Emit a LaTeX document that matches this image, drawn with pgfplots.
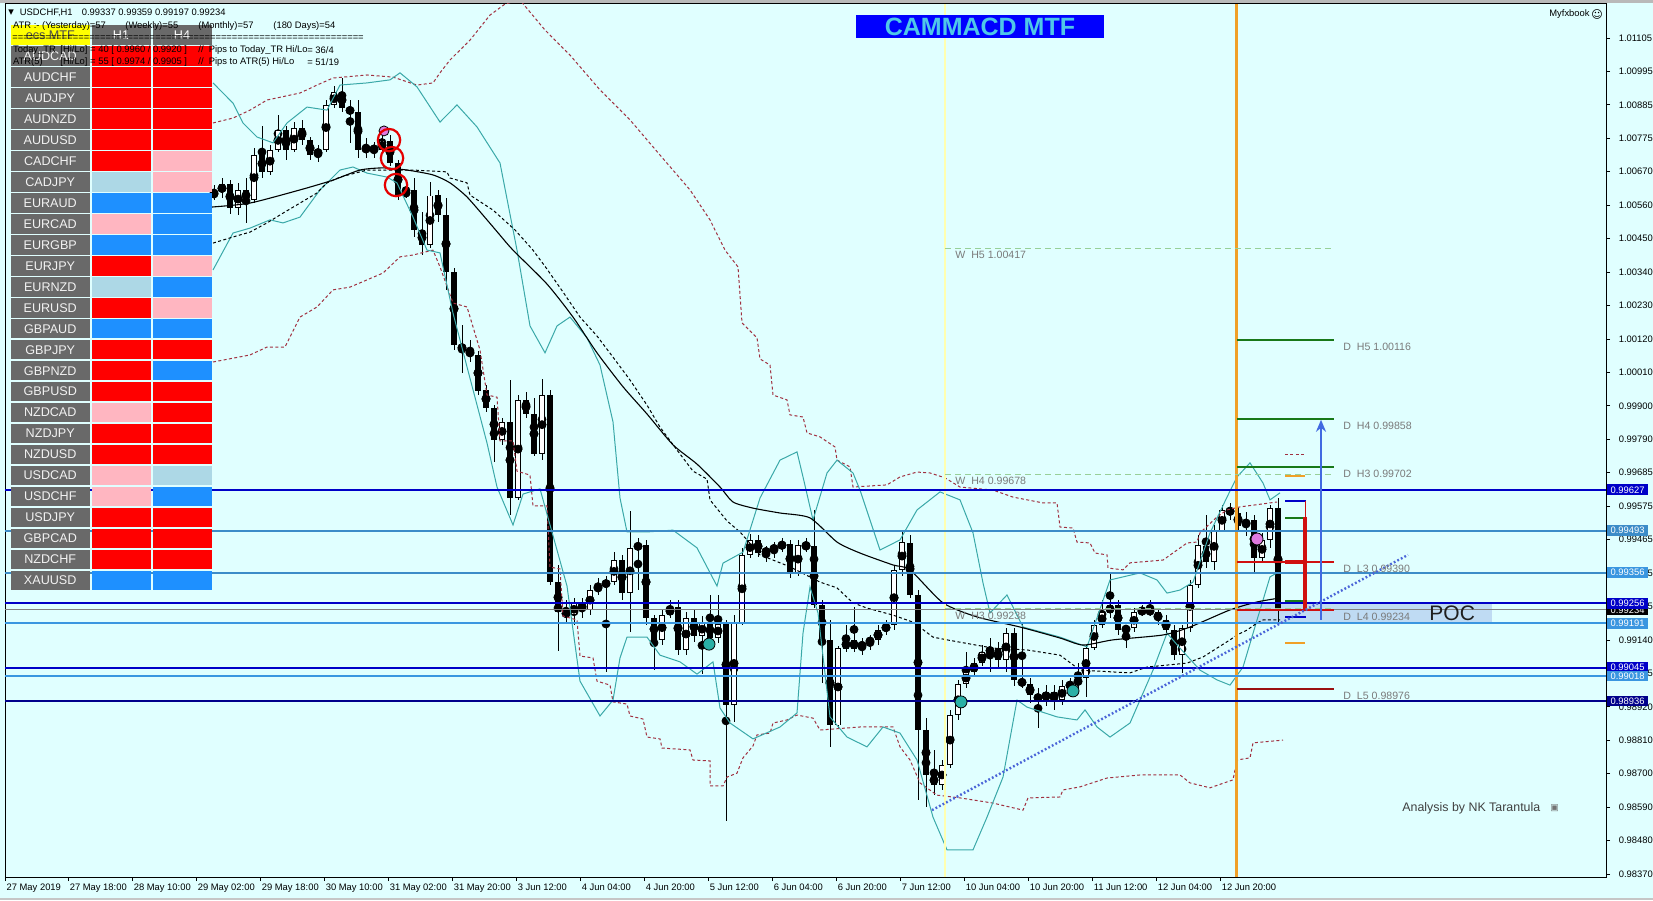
\documentclass[border=0pt]{standalone}
\usepackage{fontspec}
\setmainfont{Liberation Sans}
\newfontfamily\dejavu{DejaVu Sans}
\usepackage{pgfplots}
\usepackage{pgfplotstable}
\pgfplotsset{compat=1.18}
\usetikzlibrary{arrows.meta}

\definecolor{bg}{HTML}{E0FFFF}
\definecolor{cRed}{HTML}{FF0000}
\definecolor{cPink}{HTML}{FFB6C1}
\definecolor{cBlue}{HTML}{1E90FF}
\definecolor{cLblue}{HTML}{ADD8E6}
\definecolor{cGray}{HTML}{696969}
\definecolor{cYellow}{HTML}{FFFF00}
\definecolor{bbteal}{HTML}{3AA8A8}
\definecolor{envred}{HTML}{A03040}
\definecolor{lvDark}{HTML}{0000C8}
\definecolor{lvSteel}{HTML}{3C8CC8}
\definecolor{lvLight}{HTML}{3A96E0}
\definecolor{lvNavy}{HTML}{00008B}
\definecolor{dGreen}{HTML}{187818}
\definecolor{dRed}{HTML}{D01010}
\definecolor{dDRed}{HTML}{9A1010}
\definecolor{wGreen}{HTML}{98D098}
\definecolor{orangeL}{HTML}{F0A028}
\definecolor{yellowL}{HTML}{FFFFB0}
\definecolor{arrowBlue}{HTML}{4169E1}
\definecolor{trendBlue}{HTML}{4A64D8}
\definecolor{pocBand}{HTML}{B4CFF0}
\definecolor{tealDot}{HTML}{2AB0A6}
\definecolor{pinkDot}{HTML}{E07AE0}
\definecolor{lblGray}{HTML}{7A7A7A}
\definecolor{titleBlue}{HTML}{0000FF}
\definecolor{titleText}{HTML}{4FC8E8}

\newcommand{\sm}{\fontsize{4.7}{5.5}\selectfont}
\newcommand{\lbl}{\fontsize{5.3}{6}\selectfont}
\newcommand{\tb}{\fontsize{6.3}{7}\selectfont}

\pgfdeclareplotmark{namecell}{\pgfpathrectangle{\pgfpoint{-19.875pt}{-4.875pt}}{\pgfpoint{39.75pt}{9.75pt}}\pgfusepathqfill}
\pgfdeclareplotmark{valcell}{\pgfpathrectangle{\pgfpoint{-14.75pt}{-4.875pt}}{\pgfpoint{29.5pt}{9.75pt}}\pgfusepathqfill}

\pgfplotstableread{
x o h l c
214 1.00591 1.00624 1.00575 1.00601
222 1.00601 1.00647 1.00582 1.00627
230 1.00627 1.00640 1.00529 1.00549
238 1.00549 1.00631 1.00526 1.00608
246 1.00608 1.00647 1.00500 1.00575
254 1.00575 1.00745 1.00565 1.00722
262 1.00722 1.00820 1.00647 1.00667
270 1.00667 1.00755 1.00657 1.00739
278 1.00739 1.00853 1.00732 1.00804
286 1.00804 1.00817 1.00706 1.00739
294 1.00739 1.00830 1.00732 1.00811
302 1.00811 1.00837 1.00755 1.00771
310 1.00771 1.00781 1.00706 1.00722
318 1.00722 1.00755 1.00699 1.00739
326 1.00739 1.00902 1.00732 1.00886
334 1.00886 1.00951 1.00876 1.00928
342 1.00928 1.00974 1.00863 1.00876
350 1.00876 1.00902 1.00762 1.00863
358 1.00863 1.00902 1.00712 1.00739
366 1.00739 1.00778 1.00712 1.00745
374 1.00745 1.00765 1.00712 1.00739
382 1.00739 1.00797 1.00729 1.00771
390 1.00771 1.00788 1.00686 1.00696
398 1.00696 1.00706 1.00575 1.00591
406 1.00591 1.00631 1.00582 1.00608
414 1.00608 1.00647 1.00454 1.00477
422 1.00477 1.00536 1.00395 1.00428
430 1.00428 1.00634 1.00418 1.00591
438 1.00591 1.00608 1.00503 1.00526
446 1.00526 1.00582 1.00281 1.00339
454 1.00339 1.00353 1.00084 1.00101
462 1.00101 1.00166 1.00009 1.00084
470 1.00084 1.00117 1.00045 1.00068
478 1.00068 1.00084 0.99937 0.99953
486 0.99953 0.99970 0.99881 0.99895
494 0.99895 0.99904 0.99718 0.99790
502 0.99790 0.99862 0.99773 0.99849
510 0.99849 0.99986 0.99545 0.99600
518 0.99600 0.99937 0.99594 0.99921
526 0.99921 0.99947 0.99862 0.99875
534 0.99875 0.99927 0.99738 0.99744
542 0.99744 0.99992 0.99724 0.99937
550 0.99937 0.99953 0.99315 0.99325
558 0.99325 0.99381 0.99100 0.99227
566 0.99227 0.99266 0.99194 0.99217
574 0.99217 0.99273 0.99185 0.99257
582 0.99257 0.99273 0.99208 0.99234
590 0.99234 0.99315 0.99217 0.99299
598 0.99299 0.99338 0.99283 0.99315
606 0.99315 0.99348 0.99031 0.99325
614 0.99325 0.99423 0.99315 0.99397
622 0.99397 0.99414 0.99266 0.99289
630 0.99289 0.99558 0.99162 0.99437
638 0.99437 0.99469 0.99299 0.99446
646 0.99446 0.99463 0.99185 0.99208
654 0.99208 0.99217 0.99037 0.99136
662 0.99136 0.99234 0.99119 0.99217
670 0.99217 0.99266 0.99208 0.99244
678 0.99244 0.99266 0.99086 0.99103
686 0.99103 0.99227 0.99086 0.99208
694 0.99208 0.99234 0.99129 0.99149
702 0.99149 0.99214 0.99024 0.99194
710 0.99194 0.99283 0.99136 0.99145
718 0.99145 0.99283 0.99126 0.99188
726 0.99188 0.99201 0.98543 0.98923
734 0.98923 0.99217 0.98867 0.99194
742 0.99194 0.99437 0.99185 0.99414
750 0.99414 0.99482 0.99404 0.99463
758 0.99463 0.99479 0.99410 0.99420
766 0.99420 0.99446 0.99391 0.99430
774 0.99430 0.99456 0.99404 0.99443
782 0.99443 0.99469 0.99423 0.99450
790 0.99450 0.99463 0.99338 0.99355
798 0.99355 0.99463 0.99345 0.99446
806 0.99446 0.99469 0.99423 0.99443
814 0.99443 0.99561 0.99240 0.99250
822 0.99250 0.99266 0.98995 0.99136
830 0.99136 0.99201 0.98786 0.98857
838 0.98857 0.99119 0.98848 0.99109
846 0.99109 0.99185 0.99096 0.99136
854 0.99136 0.99244 0.99096 0.99109
862 0.99109 0.99142 0.99086 0.99129
870 0.99129 0.99152 0.99103 0.99136
878 0.99136 0.99185 0.99119 0.99168
886 0.99168 0.99201 0.99152 0.99185
894 0.99185 0.99381 0.99168 0.99365
902 0.99365 0.99489 0.99348 0.99456
910 0.99456 0.99479 0.99273 0.99283
918 0.99283 0.99299 0.98612 0.98841
926 0.98841 0.98880 0.98589 0.98694
934 0.98694 0.98776 0.98628 0.98661
942 0.98661 0.98743 0.98645 0.98727
950 0.98727 0.98907 0.98717 0.98890
958 0.98890 0.99005 0.98874 0.98992
966 0.98992 0.99096 0.98979 0.99031
974 0.99031 0.99077 0.99018 0.99060
982 0.99060 0.99119 0.99051 0.99096
990 0.99096 0.99142 0.99031 0.99109
998 0.99109 0.99129 0.99044 0.99070
1006 0.99070 0.99175 0.99031 0.99158
1014 0.99158 0.99175 0.98985 0.99005
1022 0.99005 0.99191 0.98979 0.98992
1030 0.98992 0.99011 0.98929 0.98956
1038 0.98956 0.98979 0.98848 0.98939
1046 0.98939 0.98988 0.98920 0.98965
1054 0.98965 0.98988 0.98907 0.98939
1062 0.98939 0.99005 0.98923 0.98985
1070 0.98985 0.99011 0.98965 0.98992
1078 0.98992 0.99060 0.98979 0.99011
1086 0.99011 0.99119 0.98949 0.99109
1094 0.99109 0.99201 0.99103 0.99185
1102 0.99185 0.99266 0.99175 0.99227
1110 0.99227 0.99355 0.99208 0.99250
1118 0.99250 0.99266 0.99152 0.99168
1126 0.99168 0.99185 0.99109 0.99175
1134 0.99175 0.99240 0.99162 0.99227
1142 0.99227 0.99250 0.99214 0.99234
1150 0.99234 0.99266 0.99214 0.99227
1158 0.99227 0.99240 0.99185 0.99201
1166 0.99201 0.99217 0.99158 0.99168
1174 0.99168 0.99185 0.99070 0.99086
1182 0.99086 0.99185 0.99028 0.99175
1190 0.99175 0.99332 0.99162 0.99315
1198 0.99315 0.99479 0.99306 0.99446
1206 0.99446 0.99545 0.99371 0.99391
1214 0.99391 0.99512 0.99365 0.99495
1222 0.99495 0.99577 0.99489 0.99561
1230 0.99561 0.99584 0.99528 0.99554
1238 0.99554 0.99567 0.99489 0.99509
1246 0.99509 0.99554 0.99476 0.99528
1254 0.99528 0.99545 0.99355 0.99404
1262 0.99404 0.99486 0.99391 0.99463
1270 0.99463 0.99577 0.99437 0.99567
1278 0.99567 0.99600 0.99194 0.99234
}\candles

\pgfplotstableread{
i name h1 h4
1 AUDCAD r r
2 AUDCHF r r
3 AUDJPY r r
4 AUDNZD r r
5 AUDUSD r r
6 CADCHF r p
7 CADJPY l p
8 EURAUD b b
9 EURCAD p b
10 EURGBP b b
11 EURJPY r p
12 EURNZD l b
13 EURUSD r p
14 GBPAUD b b
15 GBPJPY r r
16 GBPNZD r b
17 GBPUSD r r
18 NZDCAD p r
19 NZDJPY r r
20 NZDUSD r r
21 USDCAD p l
22 USDCHF p b
23 USDJPY r r
24 GBPCAD r r
25 NZDCHF r r
26 XAUUSD b b
}\celltab

\begin{document}
\begin{tikzpicture}
\fill[bg] (-2.5pt,-11.5pt) rectangle (824pt,438.5pt);
\fill[gray!55] (-2.5pt,437pt) rectangle (824pt,438.5pt);
\fill[gray!45] (-2.5pt,-11.5pt) rectangle (824pt,-10.3pt);

\begin{axis}[
  at={(0,0)}, anchor=south west,
  scale only axis, width=800.5pt, height=436.5pt,
  xmin=5, xmax=1606, ymin=0.983602, ymax=1.012162,
  axis line style={black, line width=0.5pt},
  clip mode=individual,
  xtick pos=bottom, ytick pos=right, yticklabel pos=right,
  tick align=outside, major tick length=2pt,
  tick style={black, line width=0.4pt},
  xtick={5,68.2,132.2,196.2,260.2,324.2,388.2,452.2,516.2,580.2,644.2,708.2,772.2,836.2,900.2,964.2,1028.2,1092.2,1156.2,1220.2},
  xticklabels={27 May 2019,27 May 18:00,28 May 10:00,29 May 02:00,29 May 18:00,30 May 10:00,31 May 02:00,31 May 20:00,3 Jun 12:00,4 Jun 04:00,4 Jun 20:00,5 Jun 12:00,6 Jun 04:00,6 Jun 20:00,7 Jun 12:00,10 Jun 04:00,10 Jun 20:00,11 Jun 12:00,12 Jun 04:00,12 Jun 20:00},
  ytick={1.01105,1.009956,1.008862,1.007768,1.006674,1.00558,1.004486,1.003392,1.002298,1.001204,1.00011,0.999016,0.997922,0.996828,0.995734,0.99464,0.993546,0.992452,0.991358,0.990264,0.98917,0.988076,0.986982,0.985888,0.984794,0.9837},
  yticklabels={1.01105,1.00995,1.00885,1.00775,1.00670,1.00560,1.00450,1.00340,1.00230,1.00120,1.00010,0.99900,0.99790,0.99685,0.99575,0.99465,0.99355,0.99245,0.99140,0.99025,0.98920,0.98810,0.98700,0.98590,0.98480,0.98370},
  ticklabel style={font=\sm, inner sep=0pt, text=black},
  xticklabel style={anchor=north west, xshift=0.6pt, yshift=-1.5pt},
  yticklabel style={anchor=west, xshift=4.2pt},
  /pgf/number format/assume math mode=true,
]
% POC band
\addplot[fill=pocBand, draw=none, fill opacity=0.75] coordinates {(1237,0.99256) (1492,0.99256) (1492,0.99191) (1237,0.99191)};

% candles: wicks, bodies, bullish interiors
\addplot[only marks, mark=none, error bars/.cd, y dir=both, y explicit, error mark=none,
  error bar style={black, line width=0.5pt}]
  table[x=x, y expr={(\thisrow{h}+\thisrow{l})/2}, y error expr={(\thisrow{h}-\thisrow{l})/2}] {\candles};
\addplot[only marks, mark=none, error bars/.cd, y dir=both, y explicit, error mark=none,
  error bar style={black, line width=2.6pt}]
  table[x=x, y expr={(\thisrow{o}+\thisrow{c})/2}, y error expr={max(abs(\thisrow{c}-\thisrow{o})/2,0.000012)}] {\candles};
\addplot[only marks, mark=none, error bars/.cd, y dir=both, y explicit, error mark=none,
  error bar style={white, line width=1.6pt}]
  table[x=x, y expr={(\thisrow{o}+\thisrow{c})/2}, y error expr={max((\thisrow{c}-\thisrow{o})/2-0.00003,0)}] {\candles};

% red dotted envelopes
\addplot[envred, line width=0.5pt, dash pattern=on 1.5pt off 1.2pt] coordinates {
(213,1.00827) (233,1.00843) (250,1.00869) (267,1.00902) (300,1.00925) (317,1.00951) (333,1.00974) (367,1.00984) (393,1.00977) (417,1.00951) (433,1.00958) (440,1.00991) (450,1.01033) (470,1.01098) (490,1.01180) (505,1.01216) (520,1.01229) (545,1.01131) (570,1.01049) (600,1.00935) (630,1.00837) (660,1.00722) (690,1.00608) (710,1.00510) (725,1.00411) (738,1.00356) (742,1.00173) (757,1.00124) (760,1.00055) (770,1.00035) (773,0.99937) (787,0.99921) (790,0.99872) (803,0.99865) (807,0.99813) (820,0.99800) (835,0.99767) (837,0.99724) (850,0.99702) (853,0.99636) (887,0.99643) (900,0.99669) (917,0.99685) (930,0.99682) (945,0.99666) (960,0.99636) (993,0.99626) (1013,0.99603) (1043,0.99584) (1057,0.99584) (1060,0.99505) (1073,0.99502) (1077,0.99456) (1090,0.99453) (1095,0.99420) (1107,0.99414) (1108,0.99371) (1123,0.99365) (1130,0.99388) (1163,0.99397) (1187,0.99453) (1197,0.99456) (1200,0.99486) (1217,0.99538) (1227,0.99561) (1240,0.99571) (1277,0.99587)};
\addplot[envred, line width=0.5pt, dash pattern=on 1.5pt off 1.2pt] coordinates {
(213,1.00045) (250,1.00068) (267,1.00094) (285,1.00094) (300,1.00192) (317,1.00225) (333,1.00281) (350,1.00290) (383,1.00336) (400,1.00389) (413,1.00395) (433,1.00411) (440,1.00356) (453,1.00238) (467,1.00225) (480,1.00084) (487,0.99937) (497,0.99930) (500,0.99787) (513,0.99787) (517,0.99688) (530,0.99675) (533,0.99574) (547,0.99574) (550,0.99374) (560,0.99368) (563,0.99214) (577,0.99201) (580,0.99083) (593,0.99077) (597,0.99001) (610,0.98988) (613,0.98933) (627,0.98926) (630,0.98887) (643,0.98877) (647,0.98818) (660,0.98812) (662,0.98782) (690,0.98776) (693,0.98743) (710,0.98740) (710,0.98658) (723,0.98658) (727,0.98687) (737,0.98700) (743,0.98750) (753,0.98789) (757,0.98825) (770,0.98831) (773,0.98864) (787,0.98874) (797,0.98890) (813,0.98880) (820,0.98841) (860,0.98851) (893,0.98851) (900,0.98786) (910,0.98743) (920,0.98668) (937,0.98628) (960,0.98619) (993,0.98602) (1023,0.98579) (1028,0.98619) (1060,0.98622) (1063,0.98645) (1080,0.98655) (1107,0.98684) (1140,0.98694) (1180,0.98694) (1190,0.98668) (1210,0.98652) (1233,0.98678) (1237,0.98743) (1250,0.98750) (1253,0.98799) (1283,0.98808)};
\addplot[envred, line width=0.5pt, dash pattern=on 1.5pt off 1.2pt] coordinates {(1285,0.99744) (1306,0.99744)};

% Bollinger bands
\addplot[bbteal, line width=0.5pt] coordinates {
(213,1.00958) (233,1.00892) (243,1.00827) (257,1.00781) (273,1.00762) (287,1.00827) (307,1.00879) (327,1.00869) (340,1.00951) (367,1.00958) (390,1.00968) (400,1.00991) (417,1.00945) (440,1.00830) (457,1.00886) (477,1.00814) (500,1.00696) (517,1.00411) (530,1.00163) (545,1.00075) (557,1.00163) (570,1.00192) (587,1.00124) (600,1.00035) (613,0.99849) (620,0.99600) (627,0.99489) (647,0.99489) (673,0.99495) (697,0.99437) (717,0.99312) (723,0.99387) (743,0.99423) (760,0.99600) (780,0.99724) (797,0.99751) (803,0.99669) (813,0.99528) (827,0.99682) (837,0.99724) (853,0.99682) (860,0.99626) (880,0.99430) (900,0.99463) (917,0.99561) (940,0.99620) (960,0.99594) (973,0.99486) (983,0.99322) (990,0.99224) (1007,0.99283) (1023,0.99178) (1060,0.99145) (1087,0.99113) (1110,0.99332) (1140,0.99355) (1157,0.99332) (1167,0.99289) (1180,0.99299) (1193,0.99325) (1210,0.99486) (1227,0.99603) (1237,0.99669) (1250,0.99715) (1263,0.99649) (1270,0.99594) (1280,0.99617)};
\addplot[bbteal, line width=0.5pt] coordinates {
(213,1.00346) (233,1.00467) (250,1.00483) (270,1.00510) (283,1.00500) (300,1.00519) (320,1.00608) (340,1.00673) (353,1.00683) (367,1.00663) (387,1.00650) (397,1.00631) (413,1.00519) (427,1.00411) (440,1.00402) (453,1.00205) (467,1.00029) (487,0.99780) (497,0.99636) (513,0.99512) (523,0.99613) (540,0.99630) (567,0.99312) (580,0.99001) (600,0.98887) (613,0.98939) (620,0.99077) (627,0.99145) (647,0.99145) (660,0.99086) (680,0.99064) (697,0.99024) (713,0.99064) (720,0.98913) (730,0.98864) (753,0.98812) (780,0.98851) (797,0.98897) (803,0.99158) (810,0.99309) (818,0.99224) (830,0.98884) (847,0.98818) (867,0.98786) (883,0.98851) (900,0.98831) (917,0.98743) (933,0.98556) (947,0.98449) (973,0.98449) (987,0.98556) (1003,0.98687) (1017,0.98939) (1027,0.98916) (1057,0.98884) (1077,0.98874) (1085,0.98907) (1097,0.98851) (1110,0.98818) (1130,0.98864) (1153,0.99037) (1167,0.99158) (1180,0.99109) (1200,0.99037) (1217,0.99005) (1230,0.98988) (1243,0.99047) (1257,0.99201) (1270,0.99342) (1277,0.99355)};

% black dotted step line
\addplot[black, line width=0.5pt, dash pattern=on 1.5pt off 1.2pt] coordinates {
(213,1.00434) (233,1.00454) (250,1.00470) (267,1.00500) (283,1.00532) (300,1.00565) (317,1.00598) (327,1.00631) (340,1.00650) (367,1.00673) (413,1.00673) (447,1.00667) (450,1.00647) (467,1.00631) (470,1.00591) (493,1.00542) (515,1.00477) (533,1.00411) (547,1.00349) (563,1.00274) (580,1.00192) (597,1.00130) (613,1.00061) (630,0.99986) (647,0.99904) (660,0.99832) (677,0.99757) (693,0.99688) (707,0.99662) (710,0.99594) (727,0.99525) (740,0.99489) (760,0.99414) (790,0.99375) (820,0.99325) (837,0.99306) (853,0.99257) (867,0.99240) (893,0.99217) (913,0.99194) (933,0.99145) (947,0.99136) (993,0.99109) (1027,0.99103) (1060,0.99086) (1080,0.99037) (1130,0.99028) (1147,0.99047) (1187,0.99060) (1203,0.99080) (1217,0.99109) (1230,0.99136) (1237,0.99152) (1247,0.99168) (1257,0.99191) (1263,0.99201) (1280,0.99201)};

% moving average
\addplot[black, line width=0.55pt, smooth, tension=0.4] coordinates {
(212,1.00552) (250,1.00565) (300,1.00608) (333,1.00640) (360,1.00673) (383,1.00680) (407,1.00673) (433,1.00657) (450,1.00631) (467,1.00585) (487,1.00510) (500,1.00460) (513,1.00411) (547,1.00300) (573,1.00192) (597,1.00075) (623,0.99964) (647,0.99875) (673,0.99774) (697,0.99711) (720,0.99636) (733,0.99587) (753,0.99567) (780,0.99551) (810,0.99535) (837,0.99456) (860,0.99420) (893,0.99381) (910,0.99365) (943,0.99257) (977,0.99211) (1020,0.99178) (1060,0.99142) (1083,0.99119) (1113,0.99136) (1163,0.99152) (1190,0.99178) (1230,0.99234) (1257,0.99260) (1280,0.99273)};

% vertical separators
\addplot[yellowL, line width=1pt] coordinates {(945,0.983602) (945,1.012162)};
\addplot[orangeL, line width=1.3pt] coordinates {(1236.5,0.983602) (1236.5,1.012162)};

% horizontal levels
\addplot[lvDark, line width=1pt] coordinates {(5,0.99627) (1606,0.99627)};
\addplot[lvSteel, line width=1pt] coordinates {(5,0.99493) (1606,0.99493)};
\addplot[lvSteel, line width=1pt] coordinates {(5,0.99356) (1606,0.99356)};
\addplot[lvDark, line width=1pt] coordinates {(5,0.99256) (1606,0.99256)};
\addplot[gray, line width=0.45pt] coordinates {(5,0.99234) (1606,0.99234)};
\addplot[lvLight, line width=1pt] coordinates {(5,0.99191) (1606,0.99191)};
\addplot[lvDark, line width=1pt] coordinates {(5,0.99045) (1606,0.99045)};
\addplot[lvLight, line width=1pt] coordinates {(5,0.99018) (1606,0.99018)};
\addplot[lvNavy, line width=1pt] coordinates {(5,0.98936) (1606,0.98936)};

% weekly levels
\addplot[wGreen, line width=0.6pt, dash pattern=on 3pt off 2pt] coordinates {(945,1.00417) (1334,1.00417)};
\addplot[wGreen, line width=0.6pt, dash pattern=on 3pt off 2pt] coordinates {(945,0.99678) (1334,0.99678)};
\addplot[wGreen, line width=0.6pt, dash pattern=on 3pt off 2pt] coordinates {(945,0.99238) (1334,0.99238)};

% daily levels
\addplot[dGreen, line width=1pt] coordinates {(1237,1.00116) (1334,1.00116)};
\addplot[dGreen, line width=1pt] coordinates {(1237,0.99858) (1334,0.99858)};
\addplot[dGreen, line width=1pt] coordinates {(1237,0.99702) (1334,0.99702)};
\addplot[dRed, line width=1pt] coordinates {(1237,0.99390) (1334,0.99390)};
\addplot[dRed, line width=1pt] coordinates {(1237,0.99234) (1334,0.99234)};
\addplot[dDRed, line width=1pt] coordinates {(1237,0.98976) (1334,0.98976)};

% short markers
\addplot[orangeL, line width=1pt] coordinates {(1285,0.99672) (1305,0.99672)};
\addplot[orangeL, line width=1pt] coordinates {(1285,0.99126) (1305,0.99126)};
\addplot[lvDark, line width=1pt] coordinates {(1285,0.99590) (1306,0.99590)};
\addplot[dGreen, line width=1pt] coordinates {(1285,0.99535) (1303,0.99535)};
\addplot[dGreen, line width=1pt] coordinates {(1285,0.99263) (1303,0.99263)};
\addplot[lvDark, line width=1pt] coordinates {(1285,0.99211) (1306,0.99211)};
\addplot[dRed, line width=2pt] coordinates {(1285,0.99390) (1306,0.99390)};
\addplot[dRed, line width=0.5pt] coordinates {(1305,0.99590) (1305,0.99538)};
\addplot[dRed, line width=2.2pt] coordinates {(1305,0.99538) (1305,0.99234)};

% trend line
\addplot[trendBlue, line width=1.2pt, dash pattern=on 0.9pt off 1.1pt] coordinates {(932,0.98579) (1408,0.99414)};

% arrow
\addplot[arrowBlue, line width=1.4pt, -{Stealth[length=6pt,width=5pt]}] coordinates {(1321,0.99201) (1321,0.99856)};

% dots and circles
\addplot[only marks, mark=*, mark size=2.5pt, mark options={draw=none, fill=pinkDot}] coordinates {(384,1.00801)};
\addplot[only marks, mark=*, mark size=3pt, mark options={draw=none, fill=pinkDot}] coordinates {(1257,0.99466)};
\addplot[only marks, mark=*, mark size=3pt, mark options={draw=none, fill=tealDot}] coordinates {(709,0.99122) (961,0.98933) (1073,0.98969)};
\addplot[only marks, mark=o, mark size=5.6pt, mark options={draw=red!90!black, line width=1.1pt}] coordinates {(389,1.00771) (392,1.00712) (396,1.00624)};

% level labels
\node[anchor=west, inner sep=0pt, font=\lbl, text=lblGray, yshift=-3.4pt] at (axis cs:955,1.00417) {W~~H5 1.00417};
\node[anchor=west, inner sep=0pt, font=\lbl, text=lblGray, yshift=-3.4pt] at (axis cs:955,0.99678) {W~~H4 0.99678};
\node[anchor=west, inner sep=0pt, font=\lbl, text=lblGray, yshift=-3.4pt] at (axis cs:955,0.99238) {W~~H3 0.99238};
\node[anchor=west, inner sep=0pt, font=\lbl, text=lblGray, yshift=-3.4pt] at (axis cs:1343,1.00116) {D~~H5 1.00116};
\node[anchor=west, inner sep=0pt, font=\lbl, text=lblGray, yshift=-3.4pt] at (axis cs:1343,0.99858) {D~~H4 0.99858};
\node[anchor=west, inner sep=0pt, font=\lbl, text=lblGray, yshift=-3.4pt] at (axis cs:1343,0.99702) {D~~H3 0.99702};
\node[anchor=west, inner sep=0pt, font=\lbl, text=lblGray, yshift=-3.4pt] at (axis cs:1343,0.99390) {D~~L3 0.99390};
\node[anchor=west, inner sep=0pt, font=\lbl, text=lblGray, yshift=-3.4pt] at (axis cs:1343,0.99234) {D~~L4 0.99234};
\node[anchor=west, inner sep=0pt, font=\lbl, text=lblGray, yshift=-3.4pt] at (axis cs:1343,0.98976) {D~~L5 0.98976};
\node[anchor=west, inner sep=0pt, font=\fontsize{10.5}{12}\selectfont, text=black!88] at (axis cs:1429,0.99224) {POC};
\end{axis}

% overlay 1: table cells (pixel coordinates)
\begin{axis}[
  at={(0,0)}, anchor=south west,
  scale only axis, width=800.5pt, height=436.5pt,
  xmin=5, xmax=1606, ymin=4, ymax=877, y dir=reverse,
  hide axis, clip=false,
]
\addplot[only marks, mark=namecell, color=cYellow] coordinates {(50.25,35.15)};
\addplot[only marks, mark=valcell, color=cGray] coordinates {(121,35.15) (182,35.15)};
\addplot[only marks, mark=namecell, color=cGray] table[x expr=50.25, y expr={35.15+20.97*\thisrow{i}}] {\celltab};
\addplot[scatter, only marks, scatter src=explicit symbolic,
  scatter/classes={r={mark=valcell,cRed}, p={mark=valcell,cPink}, b={mark=valcell,cBlue}, l={mark=valcell,cLblue}}]
  table[x expr=121, y expr={35.15+20.97*\thisrow{i}}, meta=h1] {\celltab};
\addplot[scatter, only marks, scatter src=explicit symbolic,
  scatter/classes={r={mark=valcell,cRed}, p={mark=valcell,cPink}, b={mark=valcell,cBlue}, l={mark=valcell,cLblue}}]
  table[x expr=182, y expr={35.15+20.97*\thisrow{i}}, meta=h4] {\celltab};
\end{axis}

% overlay 2: texts (pixel coordinates)
\begin{axis}[
  at={(0,0)}, anchor=south west,
  scale only axis, width=800.5pt, height=436.5pt,
  xmin=5, xmax=1606, ymin=4, ymax=877, y dir=reverse,
  hide axis, clip=false,
]
\node[font=\tb, text=black!70] at (axis cs:50.25,35.15) {ecs MTF};
\node[font=\tb, text=white] at (axis cs:121,35.15) {H1};
\node[font=\tb, text=white] at (axis cs:182,35.15) {H4};
\node[font=\tb, text=white!95!black] at (axis cs:50.25,56.12) {AUDCAD};
\node[font=\tb, text=white!95!black] at (axis cs:50.25,77.09) {AUDCHF};
\node[font=\tb, text=white!95!black] at (axis cs:50.25,98.06) {AUDJPY};
\node[font=\tb, text=white!95!black] at (axis cs:50.25,119.03) {AUDNZD};
\node[font=\tb, text=white!95!black] at (axis cs:50.25,140.00) {AUDUSD};
\node[font=\tb, text=white!95!black] at (axis cs:50.25,160.97) {CADCHF};
\node[font=\tb, text=white!95!black] at (axis cs:50.25,181.94) {CADJPY};
\node[font=\tb, text=white!95!black] at (axis cs:50.25,202.91) {EURAUD};
\node[font=\tb, text=white!95!black] at (axis cs:50.25,223.88) {EURCAD};
\node[font=\tb, text=white!95!black] at (axis cs:50.25,244.85) {EURGBP};
\node[font=\tb, text=white!95!black] at (axis cs:50.25,265.82) {EURJPY};
\node[font=\tb, text=white!95!black] at (axis cs:50.25,286.79) {EURNZD};
\node[font=\tb, text=white!95!black] at (axis cs:50.25,307.76) {EURUSD};
\node[font=\tb, text=white!95!black] at (axis cs:50.25,328.73) {GBPAUD};
\node[font=\tb, text=white!95!black] at (axis cs:50.25,349.70) {GBPJPY};
\node[font=\tb, text=white!95!black] at (axis cs:50.25,370.67) {GBPNZD};
\node[font=\tb, text=white!95!black] at (axis cs:50.25,391.64) {GBPUSD};
\node[font=\tb, text=white!95!black] at (axis cs:50.25,412.61) {NZDCAD};
\node[font=\tb, text=white!95!black] at (axis cs:50.25,433.58) {NZDJPY};
\node[font=\tb, text=white!95!black] at (axis cs:50.25,454.55) {NZDUSD};
\node[font=\tb, text=white!95!black] at (axis cs:50.25,475.52) {USDCAD};
\node[font=\tb, text=white!95!black] at (axis cs:50.25,496.49) {USDCHF};
\node[font=\tb, text=white!95!black] at (axis cs:50.25,517.46) {USDJPY};
\node[font=\tb, text=white!95!black] at (axis cs:50.25,538.43) {GBPCAD};
\node[font=\tb, text=white!95!black] at (axis cs:50.25,559.40) {NZDCHF};
\node[font=\tb, text=white!95!black] at (axis cs:50.25,580.37) {XAUUSD};

% top-left info text
\node[anchor=west, inner sep=0pt, font=\dejavu\fontsize{3.6}{4}\selectfont] at (axis cs:8,12.5) {▼};
\node[anchor=west, inner sep=0pt, font=\sm] at (axis cs:19.5,12.5) {USDCHF,H1};
\node[anchor=west, inner sep=0pt, font=\sm] at (axis cs:81.5,12.5) {0.99337 0.99359 0.99197 0.99234};
\node[anchor=west, inner sep=0pt, font=\sm] at (axis cs:12.7,25.7) {ATR :- (Yesterday)=57};
\node[anchor=west, inner sep=0pt, font=\sm] at (axis cs:125,25.7) {(Weekly)=55};
\node[anchor=west, inner sep=0pt, font=\sm] at (axis cs:198,25.7) {(Monthly)=57};
\node[anchor=west, inner sep=0pt, font=\sm] at (axis cs:273,25.7) {(180 Days)=54};
\node[anchor=west, inner sep=0pt, font=\sm] at (axis cs:12,38) {================================================================};
\node[anchor=west, inner sep=0pt, font=\sm] at (axis cs:12.7,50) {Today\_TR};
\node[anchor=west, inner sep=0pt, font=\sm] at (axis cs:60,50) {[Hi/Lo] = 40 [ 0.9960 / 0.9920 ]};
\node[anchor=west, inner sep=0pt, font=\sm] at (axis cs:198,50) {//\ \ Pips to Today\_TR Hi/Lo};
\node[anchor=west, inner sep=0pt, font=\sm] at (axis cs:307,50) {= 36/4};
\node[anchor=west, inner sep=0pt, font=\sm] at (axis cs:12.7,62) {ATR(5)};
\node[anchor=west, inner sep=0pt, font=\sm] at (axis cs:60,62) {[Hi/Lo] = 55 [ 0.9974 / 0.9905 ]};
\node[anchor=west, inner sep=0pt, font=\sm] at (axis cs:198,62) {//\ \ Pips to ATR(5) Hi/Lo};
\node[anchor=west, inner sep=0pt, font=\sm] at (axis cs:307,62) {= 51/19};

% title box
\node[fill=titleBlue, text=titleText, minimum width=124pt, minimum height=11.5pt, inner sep=0pt,
  font=\fontsize{12.5}{13}\selectfont\bfseries] at (axis cs:980,26.5) {CAMMACD MTF};

% top right / bottom right texts
\node[anchor=east, inner sep=0pt, font=\sm] at (axis cs:1590,14) {Myfxbook};
\node[anchor=west, inner sep=0pt, font=\dejavu\fontsize{5.5}{6}\selectfont] at (axis cs:1591,14) {☺};
\node[anchor=west, inner sep=0pt, font=\fontsize{6.2}{7}\selectfont, text=black!75] at (axis cs:1402,808) {Analysis by NK Tarantula};
\node[anchor=west, inner sep=0pt, font=\dejavu\fontsize{4.5}{5}\selectfont, text=black!55] at (axis cs:1550,808) {▣};

% right-side level price boxes
\node[fill=lvDark, text=white, minimum width=20.5pt, minimum height=5.4pt, inner sep=0pt, font=\sm] at (axis cs:1627.5,489.8) {0.99627};
\node[fill=lvSteel, text=white, minimum width=20.5pt, minimum height=5.4pt, inner sep=0pt, font=\sm] at (axis cs:1627.5,530.7) {0.99493};
\node[fill=lvLight, text=white, minimum width=20.5pt, minimum height=5.4pt, inner sep=0pt, font=\sm] at (axis cs:1627.5,572.6) {0.99356};
\node[fill=black, text=white, minimum width=20.5pt, minimum height=5.4pt, inner sep=0pt, font=\sm] at (axis cs:1627.5,609.9) {0.99234};
\node[fill=lvDark, text=white, minimum width=20.5pt, minimum height=5.4pt, inner sep=0pt, font=\sm] at (axis cs:1627.5,603.2) {0.99256};
\node[fill=lvLight, text=white, minimum width=20.5pt, minimum height=5.4pt, inner sep=0pt, font=\sm] at (axis cs:1627.5,623.1) {0.99191};
\node[fill=lvDark, text=white, minimum width=20.5pt, minimum height=5.4pt, inner sep=0pt, font=\sm] at (axis cs:1627.5,667.7) {0.99045};
\node[fill=lvLight, text=white, minimum width=20.5pt, minimum height=5.4pt, inner sep=0pt, font=\sm] at (axis cs:1627.5,675.9) {0.99018};
\node[fill=lvNavy, text=white, minimum width=20.5pt, minimum height=5.4pt, inner sep=0pt, font=\sm] at (axis cs:1627.5,701) {0.98936};
\end{axis}

\pgfresetboundingbox
\path[use as bounding box] (-2.5pt,-11.5pt) rectangle (824pt,438.5pt);
\end{tikzpicture}
\end{document}
